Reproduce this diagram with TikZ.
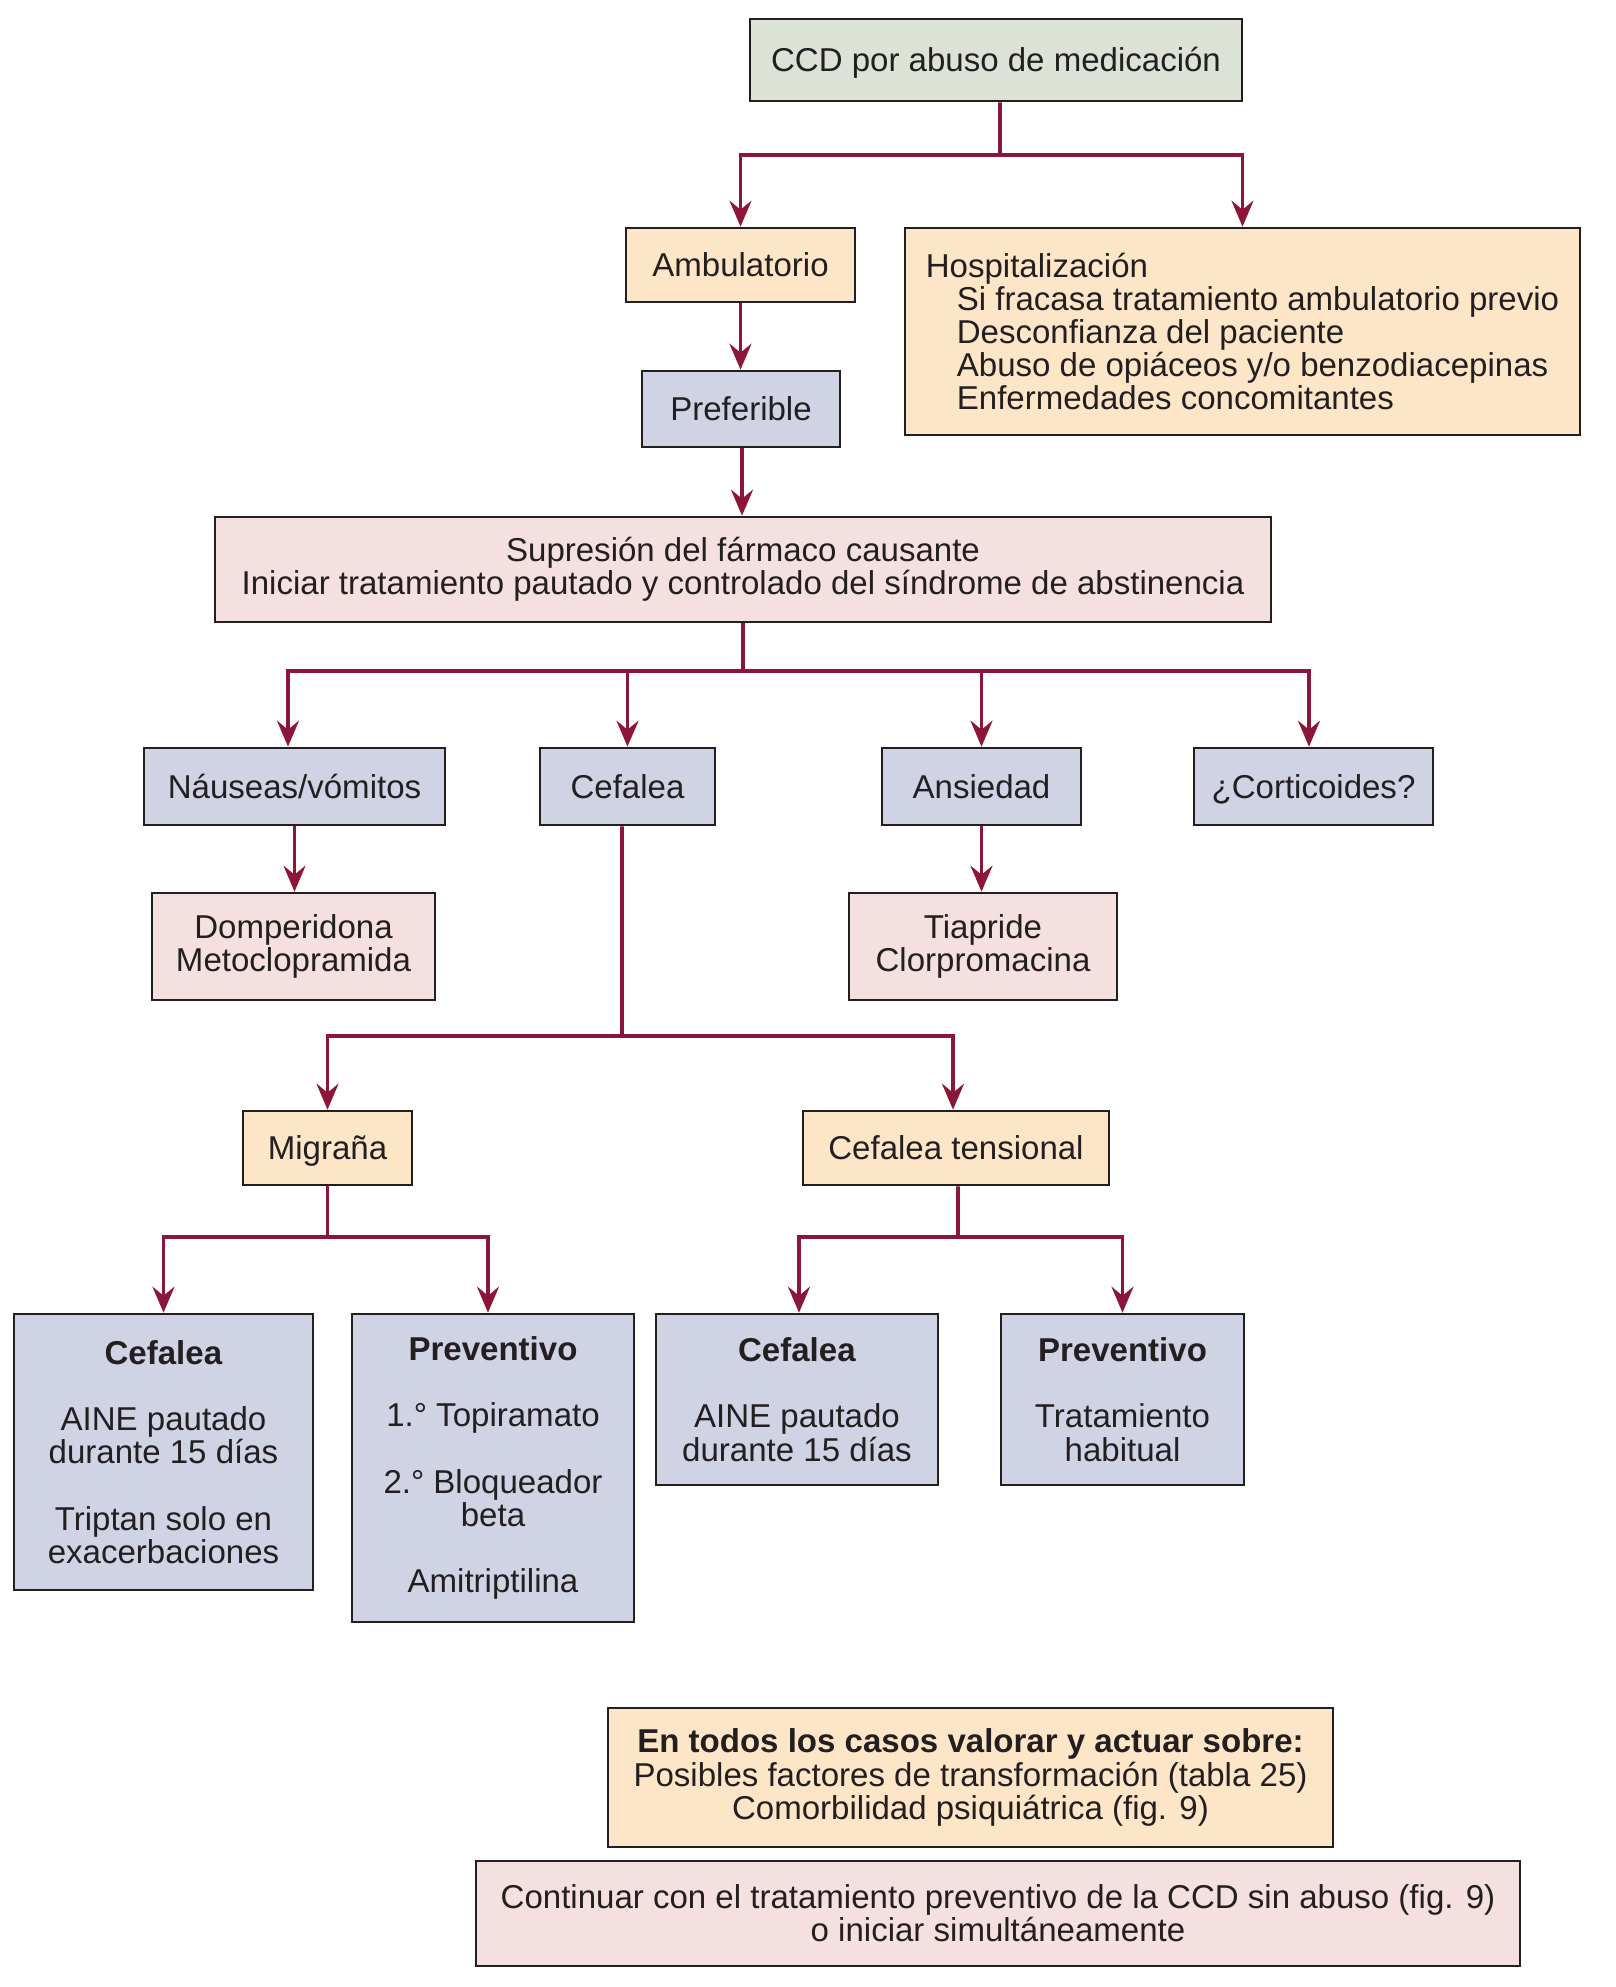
\documentclass[tikz,border=0pt]{standalone}
\usepackage{fontspec}
\setmainfont{Liberation Sans}
\usetikzlibrary{arrows.meta}
\definecolor{crim}{RGB}{140,22,58}
\definecolor{bord}{RGB}{35,31,32}
\definecolor{txt}{RGB}{35,31,32}
\definecolor{cgreen}{RGB}{220,227,214}
\definecolor{corange}{RGB}{253,230,200}
\definecolor{cblue}{RGB}{207,211,228}
\definecolor{cpink}{RGB}{243,224,223}
\begin{document}
\begin{tikzpicture}[x=0.1mm,y=-0.1mm,
  box/.style={draw=bord, line width=0.75pt, inner sep=0pt, align=center, text=txt,
    font=\fontsize{9.4}{9.45}\selectfont},
  one/.style={text height=6.8pt, text depth=0pt},
  ln/.style={draw=crim, line width=1.05pt},
  arr/.style={ln, -{Stealth[length=2.6mm,width=2.2mm,inset=0.9mm]}},
]
\useasboundingbox (0,0) rectangle (1616,1987);

\node[box, one, fill=cgreen, minimum width=49.2mm, minimum height=8.2mm] (top) at (996,60) {CCD por abuso de medicación};
\node[box, one, fill=corange, minimum width=22.9mm, minimum height=7.4mm] (amb) at (740.5,265) {Ambulatorio};
\node[box, fill=corange, minimum width=67.5mm, minimum height=20.7mm, align=left] (hosp) at (1242.5,331.5)
  {Hospitalización\\\hspace*{3.1mm}Si fracasa tratamiento ambulatorio previo\\\hspace*{3.1mm}Desconfianza del paciente\\\hspace*{3.1mm}Abuso de opiáceos y/o benzodiacepinas\\\hspace*{3.1mm}Enfermedades concomitantes};
\node[box, one, fill=cblue, minimum width=19.8mm, minimum height=7.6mm] (pref) at (741,409) {Preferible};
\node[box, fill=cpink, minimum width=105.6mm, minimum height=10.5mm] (sup) at (743,569.5)
  {Supresión del fármaco causante\\Iniciar tratamiento pautado y controlado del síndrome de abstinencia};

\node[box, one, fill=cblue, minimum width=30.1mm, minimum height=7.7mm] (naus) at (294.5,786.5) {Náuseas/vómitos};
\node[box, one, fill=cblue, minimum width=17.5mm, minimum height=7.7mm] (cef) at (627.5,786.5) {Cefalea};
\node[box, one, fill=cblue, minimum width=19.9mm, minimum height=7.7mm] (ans) at (981.5,786.5) {Ansiedad};
\node[box, one, fill=cblue, minimum width=23.9mm, minimum height=7.7mm] (cort) at (1313.5,786.5) {¿Corticoides?};

\node[box, fill=cpink, minimum width=28.3mm, minimum height=10.7mm] (dom) at (293.5,946.5) {Domperidona\\Metoclopramida};
\node[box, fill=cpink, minimum width=26.8mm, minimum height=10.7mm] (tia) at (983,946.5) {Tiapride\\Clorpromacina};

\node[box, one, fill=corange, minimum width=16.9mm, minimum height=7.4mm] (mig) at (327.5,1148) {Migraña};
\node[box, one, fill=corange, minimum width=30.6mm, minimum height=7.4mm] (ct) at (956,1148) {Cefalea tensional};

\node[box, fill=cblue, minimum width=29.9mm, minimum height=27.6mm] (c1) at (163.5,1452)
  {\textbf{Cefalea}\\[9.4pt]AINE pautado\\durante 15 días\\[9.4pt]Triptan solo en\\exacerbaciones};
\node[box, fill=cblue, minimum width=28.2mm, minimum height=30.8mm] (p1) at (493,1468)
  {\textbf{Preventivo}\\[9.4pt]1.° Topiramato\\[9.4pt]2.° Bloqueador\\beta\\[9.4pt]Amitriptilina};
\node[box, fill=cblue, minimum width=28.2mm, minimum height=17.1mm] (c2) at (797,1399.5)
  {\textbf{Cefalea}\\[9.4pt]AINE pautado\\durante 15 días};
\node[box, fill=cblue, minimum width=24.3mm, minimum height=17.1mm] (p2) at (1122.5,1399.5)
  {\textbf{Preventivo}\\[9.4pt]Tratamiento\\habitual};

\node[box, fill=corange, minimum width=72.5mm, minimum height=13.9mm] (all) at (970.5,1777.5)
  {\textbf{En todos los casos valorar y actuar sobre:}\\Posibles factores de transformación (tabla 25)\\Comorbilidad psiquiátrica (fig. 9)};
\node[box, fill=cpink, minimum width=104.4mm, minimum height=10.5mm] (cont) at (998,1913.5)
  {Continuar con el tratamiento preventivo de la CCD sin abuso (fig. 9)\\o iniciar simultáneamente};

% connectors
\coordinate (b0) at (1000,155);
\draw[ln] ([xshift=0.4mm]top.south) -- (b0);
\draw[arr] (b0) -| (amb.north);
\draw[arr] (b0) -| (hosp.north);
\draw[arr] (amb.south) -- (amb.south |- pref.north);
\draw[arr] ([xshift=0.1mm]pref.south) -- ([xshift=0.1mm]pref.south |- sup.north);

\coordinate (b1) at (743,671);
\draw[ln] (sup.south) -- (b1);
\draw[arr] (b1) -| ([xshift=-0.65mm]naus.north);
\draw[arr] (b1) -| (cef.north);
\draw[arr] (b1) -| (ans.north);
\draw[arr] (b1) -| ([xshift=-0.45mm]cort.north);

\draw[arr] (naus.south) -- (naus.south |- dom.north);
\draw[arr] (ans.south) -- (ans.south |- tia.north);

\coordinate (b2) at (622,1036);
\draw[ln] ([xshift=-0.55mm]cef.south) -- (b2);
\draw[arr] (b2) -| (mig.north);
\draw[arr] (b2) -| ([xshift=-0.3mm]ct.north);

\coordinate (b3) at (327.5,1237);
\draw[ln] (mig.south) -- (b3);
\draw[arr] (b3) -| (c1.north);
\draw[arr] (b3) -| ([xshift=-0.5mm]p1.north);

\coordinate (b4) at (958,1237);
\draw[ln] ([xshift=0.2mm]ct.south) -- (b4);
\draw[arr] (b4) -| ([xshift=0.2mm]c2.north);
\draw[arr] (b4) -| (p2.north);
\end{tikzpicture}
\end{document}
